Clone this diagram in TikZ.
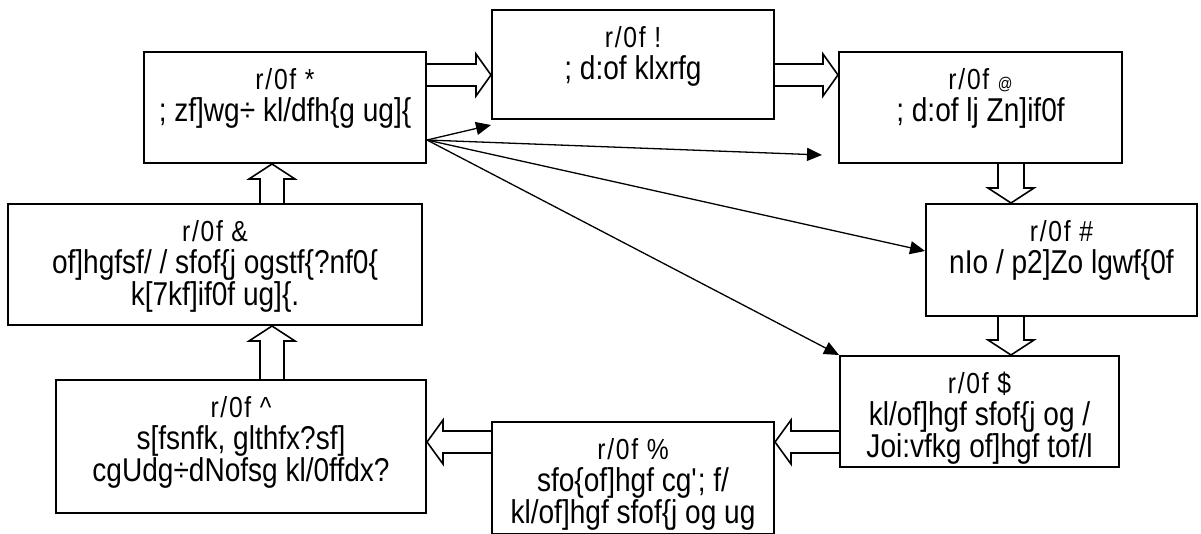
\documentclass[tikz,border=0pt]{standalone}
\usepackage{fontspec}
\setmainfont{Liberation Sans}[FakeStretch=0.85]
\newfontfamily\numfont{Liberation Sans}[FakeStretch=0.85, LetterSpace=6]
\usetikzlibrary{arrows.meta}

\newcommand{\stagenum}[1]{{\numfont\fontsize{29}{32}\selectfont\rule{0pt}{37pt}#1}}

\tikzset{
  stage/.style={draw, line width=2pt, rectangle, inner sep=0pt, fill=white,
    font=\fontsize{33}{32}\selectfont},
  flow/.style={line width=1.3pt, -{Triangle[length=15pt,width=13pt]}},
  rblock/.style={line width=1.6pt, to path={
    ([yshift=11pt]\tikztostart) -- ([xshift=-15pt,yshift=11pt]\tikztotarget)
    -- ([xshift=-15pt,yshift=21pt]\tikztotarget) -- (\tikztotarget)
    -- ([xshift=-15pt,yshift=-21pt]\tikztotarget) -- ([xshift=-15pt,yshift=-11pt]\tikztotarget)
    -- ([yshift=-11pt]\tikztostart)}},
  lblock/.style={line width=1.6pt, to path={
    ([yshift=11pt]\tikztostart) -- ([xshift=16pt,yshift=11pt]\tikztotarget)
    -- ([xshift=16pt,yshift=22pt]\tikztotarget) -- (\tikztotarget)
    -- ([xshift=16pt,yshift=-22pt]\tikztotarget) -- ([xshift=16pt,yshift=-11pt]\tikztotarget)
    -- ([yshift=-11pt]\tikztostart)}},
  ublock/.style={line width=1.6pt, to path={
    ([xshift=-12pt]\tikztostart) -- ([xshift=-12pt,yshift=-15pt]\tikztotarget)
    -- ([xshift=-23pt,yshift=-15pt]\tikztotarget) -- (\tikztotarget)
    -- ([xshift=23pt,yshift=-15pt]\tikztotarget) -- ([xshift=12pt,yshift=-15pt]\tikztotarget)
    -- ([xshift=12pt]\tikztostart)}},
  dblock/.style={line width=1.6pt, to path={
    ([xshift=-13pt]\tikztostart) -- ([xshift=-13pt,yshift=15pt]\tikztotarget)
    -- ([xshift=-23pt,yshift=15pt]\tikztotarget) -- (\tikztotarget)
    -- ([xshift=23pt,yshift=15pt]\tikztotarget) -- ([xshift=13pt,yshift=15pt]\tikztotarget)
    -- ([xshift=13pt]\tikztostart)}},
}

\begin{document}
\begin{tikzpicture}[x=1pt,y=-1pt]
\useasboundingbox (0,0) rectangle (1201,533);

\node[stage] (b1) at (633,64.5) {\parbox[c][109pt][t]{282pt}{\centering
  \stagenum{r/0f !}\\ ; d:of klxrfg}};
\node[stage] (b2) at (980.5,107.5) {\parbox[c][111pt][t]{283pt}{\centering
  \stagenum{r/0f {\fontsize{17}{17}\selectfont @}}\\ ; d:of lj Zn]if0f}};
\node[stage] (b3) at (1061.5,260) {\parbox[c][112pt][t]{271pt}{\centering
  \stagenum{r/0f \#}\\ nIo / p2]Zo lgwf\{0f}};
\node[stage] (b4) at (979.5,411.5) {\parbox[c][111pt][t]{279pt}{\centering
  \stagenum{r/0f \$}\\ kl/of]hgf sfof\{j og /\\ Joi:vfkg of]hgf tof/l}};
\node[stage] (b5) at (633,478) {\parbox[c][112pt][t]{282pt}{\centering
  \stagenum{r/0f \%}\\ sfo\{of]hgf cg\textquotesingle; f/\\ kl/of]hgf sfof\{j og ug}};
\node[stage] (b6) at (241,446.5) {\parbox[c][133pt][t]{370pt}{\centering
  \stagenum{r/0f \textasciicircum}\\ s[fsnfk, glthfx?sf]\\ cgUdg÷dNofsg kl/0ffdx?}};
\node[stage] (b7) at (285,107.5) {\parbox[c][111pt][t]{282pt}{\centering
  \stagenum{r/0f *}\\ ; zf]wg÷ kl/dfh\{g ug]\{}};
\node[stage] (b8) at (215,264.5) {\parbox[c][121pt][t]{414pt}{\centering
  \stagenum{r/0f \&}\\ of]hgfsf/ / sfof\{j ogstf\{?nf0\{\\ k[7kf]if0f ug]\{.}};

\draw[rblock] (b7.east |- 0,75) to (b1.west |- 0,75);
\draw[rblock] (b1.east |- 0,75) to (b2.west |- 0,75);
\draw[dblock] (b2.south -| 1011,0) to (b3.north -| 1011,0);
\draw[dblock] (b3.south -| 1011,0) to (b4.north -| 1011,0);
\draw[lblock] (b4.west |- 0,442) to (b5.east |- 0,442);
\draw[lblock] (b5.west |- 0,442) to (b6.east |- 0,442);
\draw[ublock] (b6.north -| 272,0) to (b8.south -| 272,0);
\draw[ublock] (b8.north -| 272,0) to (b7.south -| 272,0);

\coordinate (fan) at (b7.east |- 0,140);
\coordinate (e1) at (491,125);
\coordinate (e2) at (822,155);
\draw[flow] (fan) -- (e1);
\draw[flow] (fan) -- (e2);
\draw[flow] (fan) -- (b3.west |- 0,251);
\draw[flow] (fan) -- (b4.north west);
\end{tikzpicture}
\end{document}
